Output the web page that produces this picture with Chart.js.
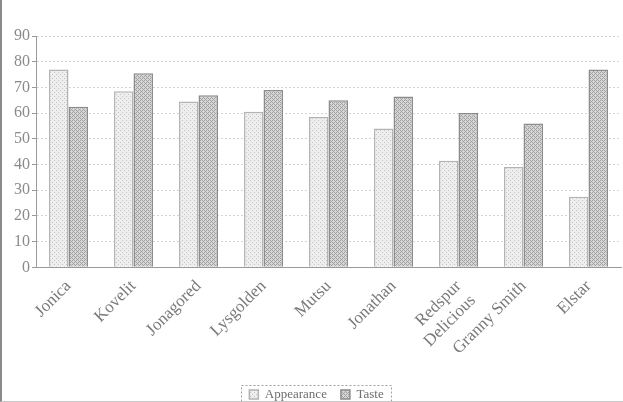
<!DOCTYPE html>
<html>
<head>
<meta charset="utf-8">
<script src="https://cdn.jsdelivr.net/npm/chart.js@4"></script>
<style>
  body { margin: 0; background: #fff; }
  #wrap { position: relative; width: 623px; height: 402px; box-sizing: border-box; border-left: 2px solid #8a8a8a; border-bottom: 1px solid #c8c8c8; }
</style>
</head>
<body>
<div id="wrap"><canvas id="chart" width="621" height="401"></canvas></div>
<script>
const varieties = ["Jonica", "Kovelit", "Jonagored", "Lysgolden", "Mutsu", "Jonathan", ["Redspur", "Delicious"], "Granny Smith", "Elstar"];
const appearance = [77, 68.5, 64.5, 60.5, 58.5, 54, 41.5, 39, 27.5];
const taste = [62.5, 75.5, 67, 69, 65, 66.5, 60, 56, 77];
const yTicks = [0, 10, 20, 30, 40, 50, 60, 70, 80, 90];

// little textured fills so the bars look like the scanned print
function makePattern(bg, ink, hatch) {
  const c = document.createElement("canvas");
  c.width = 4; c.height = 4;
  const g = c.getContext("2d");
  g.fillStyle = bg;
  g.fillRect(0, 0, 4, 4);
  g.fillStyle = ink;
  if (hatch) {
    g.fillRect(0, 0, 1, 1); g.fillRect(1, 1, 1, 1); g.fillRect(2, 2, 1, 1); g.fillRect(3, 3, 1, 1);
    g.fillRect(2, 0, 1, 1); g.fillRect(0, 2, 1, 1);
  } else {
    g.fillRect(0, 0, 1, 1); g.fillRect(2, 2, 1, 1);
  }
  return g.createPattern(c, "repeat");
}

// dotted frame round the legend items only
const legendFrame = {
  id: "legendFrame",
  afterDraw(chart) {
    const boxes = chart.legend.legendHitBoxes;
    if (!boxes || !boxes.length) return;
    const left = Math.min(...boxes.map((b) => b.left)) - 8;
    const right = Math.max(...boxes.map((b) => b.left + b.width)) + 8;
    const top = Math.min(...boxes.map((b) => b.top)) - 3;
    const bottom = Math.max(...boxes.map((b) => b.top + b.height)) + 2;
    const ctx = chart.ctx;
    ctx.save();
    ctx.strokeStyle = "#a0a0a0";
    ctx.setLineDash([2, 2]);
    ctx.lineWidth = 1;
    ctx.strokeRect(Math.round(left) + 0.5, Math.round(top) + 0.5, Math.round(right - left), Math.round(bottom - top));
    ctx.restore();
  }
};

Chart.defaults.font.family = "'Liberation Serif', 'DejaVu Serif', serif";
Chart.defaults.color = "#7a7a7a";

const ctx = document.getElementById("chart").getContext("2d");
new Chart(ctx, {
  type: "bar",
  data: {
    labels: varieties,
    datasets: [
      {
        label: "Appearance",
        data: appearance,
        backgroundColor: makePattern("#eeeeee", "#c4c4c4", false),
        borderColor: "#b4b4b4",
        borderWidth: 1.5,
        categoryPercentage: 0.6,
        barPercentage: 1.0,
      },
      {
        label: "Taste",
        data: taste,
        backgroundColor: makePattern("#d6d6d6", "#a2a2a2", true),
        borderColor: "#8c8c8c",
        borderWidth: 1.5,
        categoryPercentage: 0.6,
        barPercentage: 1.0,
      },
    ],
  },
  options: {
    responsive: false,
    animation: false,
    layout: { padding: { top: 36, right: 2, left: 10, bottom: -10 } },
    plugins: {
      legend: {
        position: "bottom",
        labels: { boxWidth: 9, boxHeight: 9, font: { size: 13 }, padding: 14, color: "#6e6e6e" },
      },
      tooltip: { enabled: false },
    },
    scales: {
      x: {
        grid: { display: false },
        border: { color: "#9a9a9a" },
        ticks: { minRotation: 45, maxRotation: 45, font: { size: 17 }, color: "#7a7a7a", padding: 1 },
      },
      y: {
        min: 0,
        max: 90,
        afterBuildTicks: (axis) => { axis.ticks = yTicks.map((v) => ({ value: v })); },
        grid: { color: "#d4d4d4", tickLength: 4, tickColor: "#9a9a9a" },
        border: { color: "#9a9a9a", dash: [2, 2] },
        ticks: { font: { size: 16 }, color: "#8a8a8a", padding: 2 },
      },
    },
  },
  plugins: [legendFrame],
});
</script>
</body>
</html>
